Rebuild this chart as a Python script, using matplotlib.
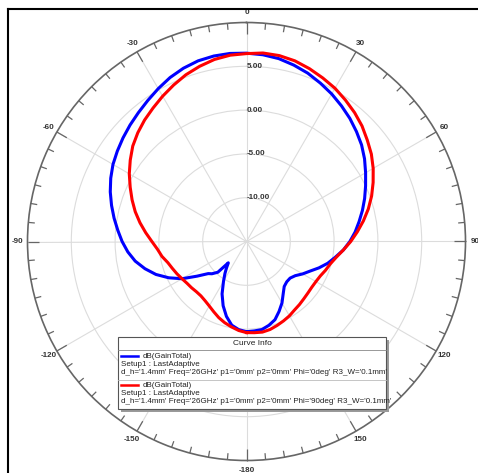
import numpy as np
import matplotlib
matplotlib.use("Agg")
import matplotlib.pyplot as plt
from matplotlib.patches import Rectangle
from matplotlib.lines import Line2D

# ---------------- data ----------------
blue_theta = [-180, -175, -170, -165, -160, -155, -150, -146, -143, -139.5, -137, -133, -130,
              -125, -120, -115, -110, -105, -100, -95, -90, -85, -80, -75, -70, -65, -60,
              -55, -50, -45, -40, -35, -30, -25, -20, -15, -10, -5, 0, 5, 10, 15, 20, 25,
              30, 35, 40, 45, 50, 55, 60, 65, 70, 75, 80, 85, 90, 95, 100, 105, 110, 115,
              120, 125, 130, 135, 140, 145, 150, 155, 160, 165, 170, 175, 180]
blue_db = [-4.7, -4.9, -5.3, -6.15, -7.2, -8.4, -9.75, -10.6, -11.2, -11.8, -10.2, -9.6, -9.3,
           -8.1, -6.5, -5.2, -4.0, -3.0, -2.1, -1.4, -0.8, -0.25, 0.35, 0.95, 1.55, 2.1, 2.6,
           3.0, 3.4, 3.8, 4.2, 4.65, 5.15, 5.65, 6.05, 6.35, 6.5, 6.55, 6.5, 6.4, 6.2, 5.85, 5.45, 4.95,
           4.45, 3.9, 3.35, 2.75, 2.15, 1.45, 0.7, 0.0, -0.65, -1.3, -1.95, -2.55, -3.2, -3.9, -4.7, -5.4, -6.2, -7.0,
           -7.6, -8.2, -8.5, -8.5, -8.3, -7.7, -6.9, -6.2, -5.5, -5.1, -4.8, -4.75, -4.7]

red_theta = list(range(-180, 181, 5))
red_db = [-4.6, -4.8, -5.1, -5.4, -5.75, -6.15, -6.5, -6.75, -6.9, -6.9, -6.8, -6.7, -6.5,
          -6.25, -6.0, -5.7, -5.2, -4.8, -4.2, -3.45, -2.65, -1.85, -1.1, -0.35, 0.45,
          1.2, 1.95, 2.55, 3.1, 3.6, 4.15, 4.7, 5.25, 5.7, 6.1, 6.35, 6.45, 6.6, 6.55,
          6.35, 6.0, 5.6, 5.2, 4.7, 4.2, 3.65, 3.0, 2.4, 1.7, 0.95, 0.2, -0.6, -1.45, -2.3,
          -3.1, -3.9, -4.6, -5.1, -5.4, -5.7, -5.85, -5.9, -5.85, -5.75, -5.6, -5.45, -5.2,
          -5.0, -4.8, -4.6, -4.5, -4.55, -4.6]

ring_values = [-10, -5, 0, 5]
angle_ticks = [0, 30, 60, 90, 120, 150, 180, 210, 240, 270, 300, 330]
angle_labels = ['0', '30', '60', '90', '120', '150', '-180', '-150', '-120', '-90', '-60', '-30']

legend_title = "Curve Info"
legend_entries = [
    ("#0000ff", "dB(GainTotal)", "Setup1 : LastAdaptive",
     "d_h='1.4mm' Freq='26GHz' p1='0mm' p2='0mm' Phi='0deg' R3_W='0.1mm'"),
    ("#ff0000", "dB(GainTotal)", "Setup1 : LastAdaptive",
     "d_h='1.4mm' Freq='26GHz' p1='0mm' p2='0mm' Phi='90deg' R3_W='0.1mm'"),
]

# ---------------- figure ----------------
W, H = 478, 473
fig = plt.figure(figsize=(W / 100, H / 100), dpi=100)
fig.patch.set_facecolor('white')

def fx(x):
    return x / W

def fy(y):
    return 1 - y / H

cx, cy, R = 246.5, 241.5, 219.0
rmin, rmax = -15, 10
ax = fig.add_axes([fx(cx - R), fy(cy + R), 2 * R / W, 2 * R / H], projection='polar')
ax.set_theta_zero_location('N')
ax.set_theta_direction(-1)
ax.set_ylim(rmin, rmax)
ax.set_facecolor('white')

ax.set_yticks(ring_values)
ax.set_yticklabels([])
ax.set_xticks(np.deg2rad(angle_ticks))
ax.set_xticklabels([])
ax.grid(True, color='#dcdcdc', lw=0.8)
ax.spines['polar'].set_color('#666666')
ax.spines['polar'].set_linewidth(1.2)
ax.tick_params(length=0)

FONT = 'Liberation Sans'
px_per_db = R / (rmax - rmin)

# outer ticks (inward)
for a in range(0, 360, 5):
    L = 11.5 if a % 30 == 0 else 6.5
    ax.plot([np.deg2rad(a)] * 2, [rmax, rmax - L / px_per_db], color='#666666', lw=0.9,
            clip_on=False, solid_capstyle='butt')

# angle labels
for a, lab in zip(angle_ticks, angle_labels):
    ax.text(np.deg2rad(a), rmax + 9.5 / px_per_db, lab, ha='center', va='center',
            fontsize=5.8, fontweight='bold', family=FONT, color='#333333', clip_on=False)

# ring labels
for v in ring_values:
    ax.text(0, v, f"{v:.2f}", ha='left', va='center', fontsize=5.8, fontweight='bold',
            family=FONT, color='#333333')

# curves
ax.plot(np.deg2rad(blue_theta), blue_db, color='#0000ff', lw=2.2, zorder=5)
ax.plot(np.deg2rad(red_theta), red_db, color='#ff0000', lw=2.2, zorder=6)

# outer frame (left and top visible)
fig.add_artist(Line2D([fx(8), fx(8)], [fy(9), fy(480)], color='black', lw=1.5,
                      transform=fig.transFigure))
fig.add_artist(Line2D([fx(8), fx(490)], [fy(9), fy(9)], color='black', lw=1.5,
                      transform=fig.transFigure))

# legend box
lx0, lx1, ly0, ly1 = 118, 386, 337, 409
fig.add_artist(Rectangle((fx(lx0 + 3), fy(ly1 + 3)), (lx1 - lx0) / W, (ly1 - ly0) / H,
                         transform=fig.transFigure, facecolor='#9a9a9a', edgecolor='none', zorder=9))
fig.add_artist(Rectangle((fx(lx0), fy(ly1)), (lx1 - lx0) / W, (ly1 - ly0) / H,
                         transform=fig.transFigure, facecolor='white', edgecolor='#555555',
                         lw=0.8, zorder=10))
fig.text(fx((lx0 + lx1) / 2), fy(343.5), legend_title, ha='center', va='center',
         fontsize=6, family=FONT, color='#222222', zorder=11)
fig.add_artist(Line2D([fx(lx0), fx(lx1)], [fy(349.5), fy(349.5)], color='#888888', lw=0.6,
                      transform=fig.transFigure, zorder=11))
fig.add_artist(Line2D([fx(lx0), fx(lx1)], [fy(379.5), fy(379.5)], color='#bbbbbb', lw=0.6,
                      transform=fig.transFigure, zorder=11))

ys = [(356, 364.7, 372.7), (385, 393.7, 401.7)]
for (col, t1, t2, t3), (y1, y2, y3) in zip(legend_entries, ys):
    fig.add_artist(Line2D([fx(121), fx(138)], [fy(y1), fy(y1)], color=col, lw=1.8,
                          transform=fig.transFigure, zorder=11))
    fig.text(fx(143), fy(y1), t1, ha='left', va='center', fontsize=5.8, family=FONT,
             color='#222222', zorder=11)
    fig.text(fx(121), fy(y2), t2, ha='left', va='center', fontsize=5.8, family=FONT,
             color='#222222', zorder=11)
    fig.text(fx(121), fy(y3), t3, ha='left', va='center', fontsize=5.8, family=FONT,
             color='#222222', zorder=11)

fig.savefig('out.png', dpi=100, facecolor='white')
